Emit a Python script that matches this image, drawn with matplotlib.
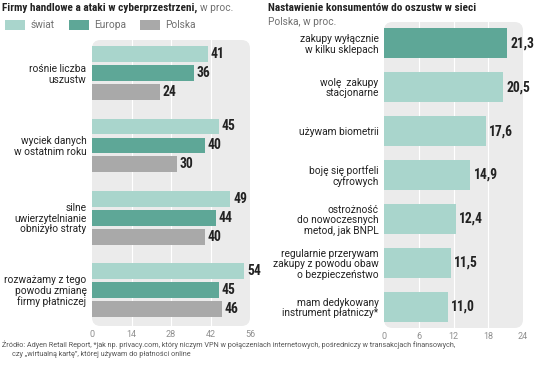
import matplotlib
matplotlib.use("Agg")
import matplotlib.pyplot as plt
from matplotlib.patches import FancyBboxPatch, Patch
from matplotlib import font_manager
import numpy as np

# left panel data
firm_cats = ["rośnie liczba\nuszustw", "wyciek danych\nw ostatnim roku",
             "silne\nuwierzytelnianie\nobniżyło straty",
             "rozważamy z tego\npowodu zmianę\nfirmy płatniczej"]
swiat = [41, 45, 49, 54]
europa = [36, 40, 44, 45]
polska = [24, 30, 40, 46]
series_names = ["świat", "Europa", "Polska"]
left_ticks = [0, 14, 28, 42, 56]

# right panel data
cons_cats = ["zakupy wyłącznie\nw kilku sklepach", "wolę  zakupy\nstacjonarne",
             "używam biometrii", "boję się portfeli\ncyfrowych",
             "ostrożność\ndo nowoczesnych\nmetod, jak BNPL",
             "regularnie przerywam\nzakupy z powodu obaw\no bezpieczeństwo",
             "mam dedykowany\ninstrument płatniczy*"]
cons_vals = [21.3, 20.5, 17.6, 14.9, 12.4, 11.5, 11.0]
right_ticks = [0, 6, 12, 18, 24]

LIGHT = "#a9d5cc"
TEAL = "#5ea797"
GRAY = "#a9a9a9"
BG = "#ebebeb"
TXT = "#222222"
SUB = "#707070"

names = {f.name for f in font_manager.fontManager.ttflist}
COND = "Roboto Condensed" if "Roboto Condensed" in names else "Roboto"
plt.rcParams["font.family"] = ["Roboto", "DejaVu Sans"]

W, H = 536, 368
fig = plt.figure(figsize=(W / 100, H / 100), dpi=100)
fig.patch.set_facecolor("white")


def px_axes(x0, y0, x1, y1):
    return fig.add_axes([x0 / W, 1 - y1 / H, (x1 - x0) / W, (y1 - y0) / H])


def bg_box(x0, y0, x1, y1):
    box = FancyBboxPatch((x0 / W, 1 - y1 / H), (x1 - x0) / W, (y1 - y0) / H,
                         boxstyle="round,pad=0,rounding_size=0.016",
                         mutation_aspect=W / H, transform=fig.transFigure,
                         facecolor=BG, edgecolor="none", zorder=0)
    fig.add_artist(box)


def style(ax, ticks, xmax):
    ax.set_facecolor("none")
    ax.set_xlim(0, xmax)
    ax.set_xticks(ticks)
    ax.set_xticklabels([str(t) for t in ticks], color="#8f8f8f", fontsize=6.5)
    ax.tick_params(axis="x", length=0, pad=3)
    ax.tick_params(axis="y", length=0, pad=4)
    for t in ticks[1:-1]:
        ax.axvline(t, color="white", lw=0.8, zorder=1)
    for s in ax.spines.values():
        s.set_visible(False)


# ---- left panel
bg_box(92, 40, 250, 326)
ax1 = px_axes(92, 40, 250, 326)
style(ax1, left_ticks, 56)
y = np.arange(len(firm_cats))
off = 0.263
h = 0.22
for vals, dy, col in [(swiat, -off, LIGHT), (europa, 0, TEAL), (polska, off, GRAY)]:
    ax1.barh(y + dy, vals, height=h, color=col, zorder=2)
    for yi, v in zip(y, vals):
        ax1.text(v + 1.0, yi + dy, str(v), va="center", ha="left", family=COND,
                 fontsize=9.8, fontweight="bold", color=TXT, clip_on=False)
ax1.set_yticks(y)
ax1.set_yticklabels(firm_cats, fontsize=7.3, color=TXT, multialignment="right",
                    linespacing=1.05)
ax1.set_ylim(3.5, -0.46)

t1 = fig.text(2 / W, 1 - 8 / H, "Firmy handlowe a ataki w cyberprzestrzeni,",
              fontsize=8.1, fontweight="bold", color=TXT, va="center", ha="left",
              family=COND)

handles = [Patch(facecolor=c, edgecolor="none") for c in (LIGHT, TEAL, GRAY)]
leg = fig.legend(handles, series_names, loc="center left",
                 bbox_to_anchor=(5 / W, 1 - 25 / H), ncol=3, frameon=False,
                 prop={"size": 7.3}, handlelength=2.0,
                 handleheight=1.1, columnspacing=1.4, handletextpad=0.5,
                 borderaxespad=0, borderpad=0)
for t in leg.get_texts():
    t.set_color(SUB)

# ---- right panel
bg_box(384, 22, 523, 328)
ax2 = px_axes(384, 22, 523, 328)
style(ax2, right_ticks, 24)
y2 = np.arange(len(cons_cats))
cols = [TEAL] + [LIGHT] * (len(cons_vals) - 1)
ax2.barh(y2, cons_vals, height=0.7, color=cols, zorder=2)
for yi, v in zip(y2, cons_vals):
    ax2.text(v + 0.6, yi, f"{v:.1f}".replace(".", ","), va="center", ha="left",
             family=COND, fontsize=9.8, fontweight="bold", color=TXT, clip_on=False)
ax2.set_yticks(y2)
ax2.set_yticklabels(cons_cats, fontsize=7.3, color=TXT, multialignment="right",
                    linespacing=1.05)
ax2.set_ylim(6.48, -0.48)

fig.text(268 / W, 1 - 8 / H, "Nastawienie konsumentów do oszustw w sieci",
         fontsize=8.1, fontweight="bold", color=TXT, va="center", ha="left",
         family=COND)
fig.text(268 / W, 1 - 22 / H, "Polska, w proc.", fontsize=7.3, color=SUB,
         va="center", ha="left")

# ---- source
fig.text(2 / W, 1 - 345 / H,
         "Źródło: Adyen Retail Report, *jak np. privacy.com, który niczym VPN w połączeniach "
         "internetowych, pośredniczy w transakcjach finansowych,",
         fontsize=5.25, color="#555555", va="center", ha="left")
fig.text(12 / W, 1 - 355 / H,
         "czy „wirtualną kartę”, której używam do płatności online",
         fontsize=5.25, color="#555555", va="center", ha="left")

# "w proc." placed right after the bold title
fig.canvas.draw()
bb = t1.get_window_extent()
fig.text((bb.x1 + 3) / W, 1 - 8 / H, "w proc.", fontsize=7.3, color=SUB,
         va="center", ha="left")

fig.savefig("out.png", dpi=100, facecolor="white")
